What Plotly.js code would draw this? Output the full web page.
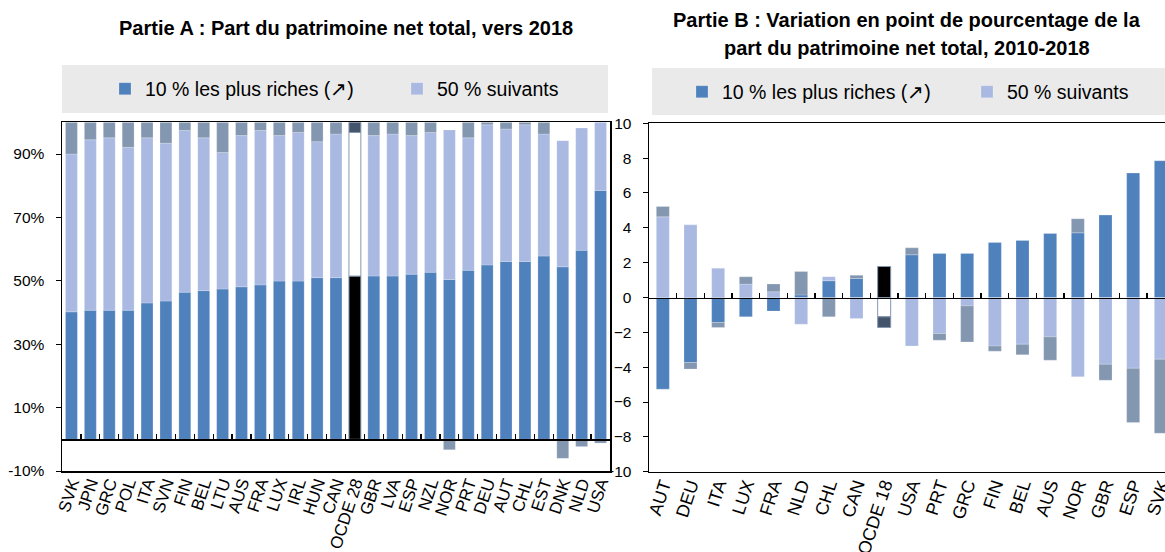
<!DOCTYPE html>
<html>
<head>
<meta charset="utf-8">
<script src="https://cdn.plot.ly/plotly-3.0.1.min.js"></script>
<style>html,body{margin:0;padding:0;background:#fff;} #chart{width:1165px;height:552px;}</style>
</head>
<body>
<div id="chart"></div>
<script>
// ---------- Panel A data: share of total net wealth, around 2018 ----------
const catsA = ["SVK","JPN","GRC","POL","ITA","SVN","FIN","BEL","LTU","AUS","FRA","LUX","IRL","HUN","CAN","OCDE 28","GBR","LVA","ESP","NZL","NOR","PRT","DEU","AUT","CHL","EST","DNK","NLD","USA"];
const top10A   = [40.2,40.7,40.7,40.7,43.0,43.6,46.4,46.9,47.4,48.1,48.7,49.9,49.9,51.0,51.0,51.5,51.5,51.5,52.1,52.7,50.4,53.3,55.0,56.1,56.1,57.8,54.4,59.6,78.5];
const next50A  = [49.8,53.8,54.4,51.4,52.1,49.8,51.0,48.2,43.1,47.7,48.7,45.9,46.9,42.9,45.3,45.3,44.3,44.8,43.7,44.1,47.2,41.8,44.2,41.8,43.1,38.5,39.8,38.6,21.5];
const bottom40A= [10.0,5.5,4.9,7.9,4.9,6.6,2.6,4.9,9.5,4.2,2.6,4.2,3.2,6.1,3.7,3.2,4.2,3.7,4.2,3.2,-3.3,4.9,0.8,2.1,0.8,3.7,-6.0,-2.3,-1.2];
const yTicksA = [-10,10,30,50,70,90];
const yTickTextA = ["-10%","10%","30%","50%","70%","90%"];

// ---------- Panel B data: change in percentage points, 2010-2018 ----------
const catsB = ["AUT","DEU","ITA","LUX","FRA","NLD","CHL","CAN","OCDE 18","USA","PRT","GRC","FIN","BEL","AUS","NOR","GBR","ESP","SVK"];
const top10B   = [-5.26,-3.73,-1.44,-1.11,-0.78,0.15,0.96,1.09,1.78,2.45,2.53,2.53,3.16,3.27,3.67,3.71,4.73,7.14,7.85];
const next50B  = [4.63,4.17,1.68,0.77,0.33,-1.53,0.23,-1.21,-1.11,-2.78,-2.07,-0.48,-2.79,-2.68,-2.26,-4.55,-3.83,-4.06,-3.54];
const bottom40B= [0.59,-0.38,-0.28,0.42,0.44,1.34,-1.11,0.19,-0.61,0.40,-0.38,-2.07,-0.29,-0.61,-1.34,0.81,-0.92,-3.12,-4.25];

const legendNames = ["10 % les plus riches (\u2197)", "50 % suivants"];

// ---------- styles ----------
const C_TOP = "#4F81BD", C_NEXT = "#A9B9E2", C_BOT = "#8497B0";
const C_TOP_O = "#000000", C_NEXT_O = "#FFFFFF", C_BOT_O = "#44546A";
const FONT = "Liberation Sans, Arial, sans-serif";
const W = 1165, H = 552;

function pickColors(cats, normal, special) {
  return cats.map(c => c.startsWith("OCDE") ? special : normal);
}
function pickLine(cats) {
  return {
    color: cats.map(c => c.startsWith("OCDE") ? "#8497B0" : "rgba(255,255,255,0.35)"),
    width: cats.map(c => c.startsWith("OCDE") ? 1 : 0.6)
  };
}

function panelTraces(cats, t, n, b, xa, ya, legT, legN, w) {
  return [
    {type:"bar", x:cats, y:t, name:legendNames[0], xaxis:xa, yaxis:ya, legend:legT, width:w,
     marker:{color:pickColors(cats, C_TOP, C_TOP_O), line:pickLine(cats)}, hoverinfo:"x+y"},
    {type:"bar", x:cats, y:n, name:legendNames[1], xaxis:xa, yaxis:ya, legend:legN, width:w,
     marker:{color:pickColors(cats, C_NEXT, C_NEXT_O), line:pickLine(cats)}, hoverinfo:"x+y"},
    {type:"bar", x:cats, y:b, name:"40 % les plus pauvres", xaxis:xa, yaxis:ya, showlegend:false, width:w,
     marker:{color:pickColors(cats, C_BOT, C_BOT_O), line:pickLine(cats)}, hoverinfo:"x+y"}
  ];
}

const data = [
  ...panelTraces(catsA, top10A, next50A, bottom40A, "x", "y", "legend", "legend3", 0.63),
  ...panelTraces(catsB, top10B, next50B, bottom40B, "x2", "y2", "legend2", "legend4", 0.47),
  {type:"scatter", x:[], y:[], xaxis:"x3", yaxis:"y", showlegend:false, hoverinfo:"skip"},
  {type:"scatter", x:[], y:[], xaxis:"x4", yaxis:"y2", showlegend:false, hoverinfo:"skip"}
];

// layout geometry (pixels -> paper)
const px = v => v / W;
const py = v => (H - v) / H;
const domAx = [px(62), px(610)], domAy = [py(471), py(122.3)];
const domBx = [px(649), 1],     domBy = [py(471.7), py(123.3)];
const rangeA = [-10, 100], rangeB = [-10, 10];
const xRangeB = [-0.5, 18.15];
const zeroPos = (dom, r) => dom[0] + (0 - r[0]) / (r[1] - r[0]) * (dom[1] - dom[0]);
const boundaries = n => Array.from({length: n - 1}, (_, i) => i + 0.5);

const TICKF = {family:FONT, size:15.5, color:"#000"};
const axisBase = {showline:true, linecolor:"#000", linewidth:1.5, mirror:true, showgrid:false, zeroline:false,
                  tickfont:TICKF, fixedrange:true, automargin:false};

const legBase = {orientation:"h", xanchor:"left", yanchor:"middle", bgcolor:"rgba(0,0,0,0)",
                 font:{family:FONT, size:19.5, color:"#000"}, borderwidth:0};
const TITLEF = {family:FONT, size:20, color:"#000"};

const layout = {
  width:W, height:H, margin:{l:0,r:0,t:0,b:0}, paper_bgcolor:"#fff", plot_bgcolor:"#fff",
  barmode:"relative", font:{family:FONT, color:"#000"}, showlegend:true,
  xaxis: {...axisBase, domain:domAx, anchor:"y", type:"category", range:[-0.5, catsA.length - 0.5],
          tickmode:"array", tickvals:catsA, ticktext:catsA, tickangle:-72, ticks:"", ticklabelstandoff:-6,
          tickfont:{family:FONT, size:17, color:"#000"}},
  yaxis: {...axisBase, domain:domAy, anchor:"x", range:rangeA, tickmode:"array", tickvals:yTicksA, ticktext:yTickTextA,
          ticks:"outside", ticklen:5, tickcolor:"#000", ticklabelstandoff:8},
  xaxis2:{...axisBase, domain:domBx, anchor:"y2", type:"category", range:xRangeB,
          tickmode:"array", tickvals:catsB, ticktext:catsB, tickangle:-72, ticks:"", ticklabelstandoff:-6,
          tickfont:{family:FONT, size:18, color:"#000"}},
  yaxis2:{...axisBase, domain:domBy, anchor:"x2", range:rangeB, dtick:2, tick0:0,
          ticks:"outside", ticklen:5, tickcolor:"#000", ticklabelstandoff:8},
  xaxis3:{overlaying:"x", anchor:"free", position:zeroPos(domAy, rangeA), range:[-0.5, catsA.length - 0.5],
          tickmode:"array", tickvals:boundaries(catsA.length), ticks:"inside", ticklen:5, tickwidth:1.2, tickcolor:"#000",
          showticklabels:false, showline:true, linecolor:"#000", linewidth:1.5, showgrid:false, zeroline:false, fixedrange:true},
  xaxis4:{overlaying:"x2", anchor:"free", position:zeroPos(domBy, rangeB), range:xRangeB,
          tickmode:"array", tickvals:boundaries(catsB.length), ticks:"inside", ticklen:5, tickwidth:1.2, tickcolor:"#000",
          showticklabels:false, showline:true, linecolor:"#000", linewidth:1.5, showgrid:false, zeroline:false, fixedrange:true},
  legend: {...legBase, x:px(105), y:py(89)},
  legend3:{...legBase, x:px(397), y:py(89)},
  legend2:{...legBase, x:px(682), y:py(92)},
  legend4:{...legBase, x:px(967), y:py(92)},
  shapes:[
    {type:"rect", xref:"paper", yref:"paper", x0:px(62), x1:px(608), y0:py(113), y1:py(65), fillcolor:"#EAEAEA", line:{width:0}, layer:"below"},
    {type:"rect", xref:"paper", yref:"paper", x0:px(652), x1:1, y0:py(115), y1:py(68), fillcolor:"#EAEAEA", line:{width:0}, layer:"below"}
  ],
  annotations:[
    {xref:"paper", yref:"paper", x:px(346), y:py(28), xanchor:"center", yanchor:"middle", showarrow:false,
     text:"<b>Partie A : Part du patrimoine net total, vers 2018</b>", font:TITLEF},
    {xref:"paper", yref:"paper", x:px(907), y:py(20), xanchor:"center", yanchor:"middle", showarrow:false,
     text:"<b>Partie B : Variation en point de pourcentage de la</b>", font:TITLEF},
    {xref:"paper", yref:"paper", x:px(907), y:py(48), xanchor:"center", yanchor:"middle", showarrow:false,
     text:"<b>part du patrimoine net total, 2010-2018</b>", font:TITLEF}
  ]
};

Plotly.newPlot("chart", data, layout, {staticPlot:true, displayModeBar:false});
</script>
</body>
</html>
